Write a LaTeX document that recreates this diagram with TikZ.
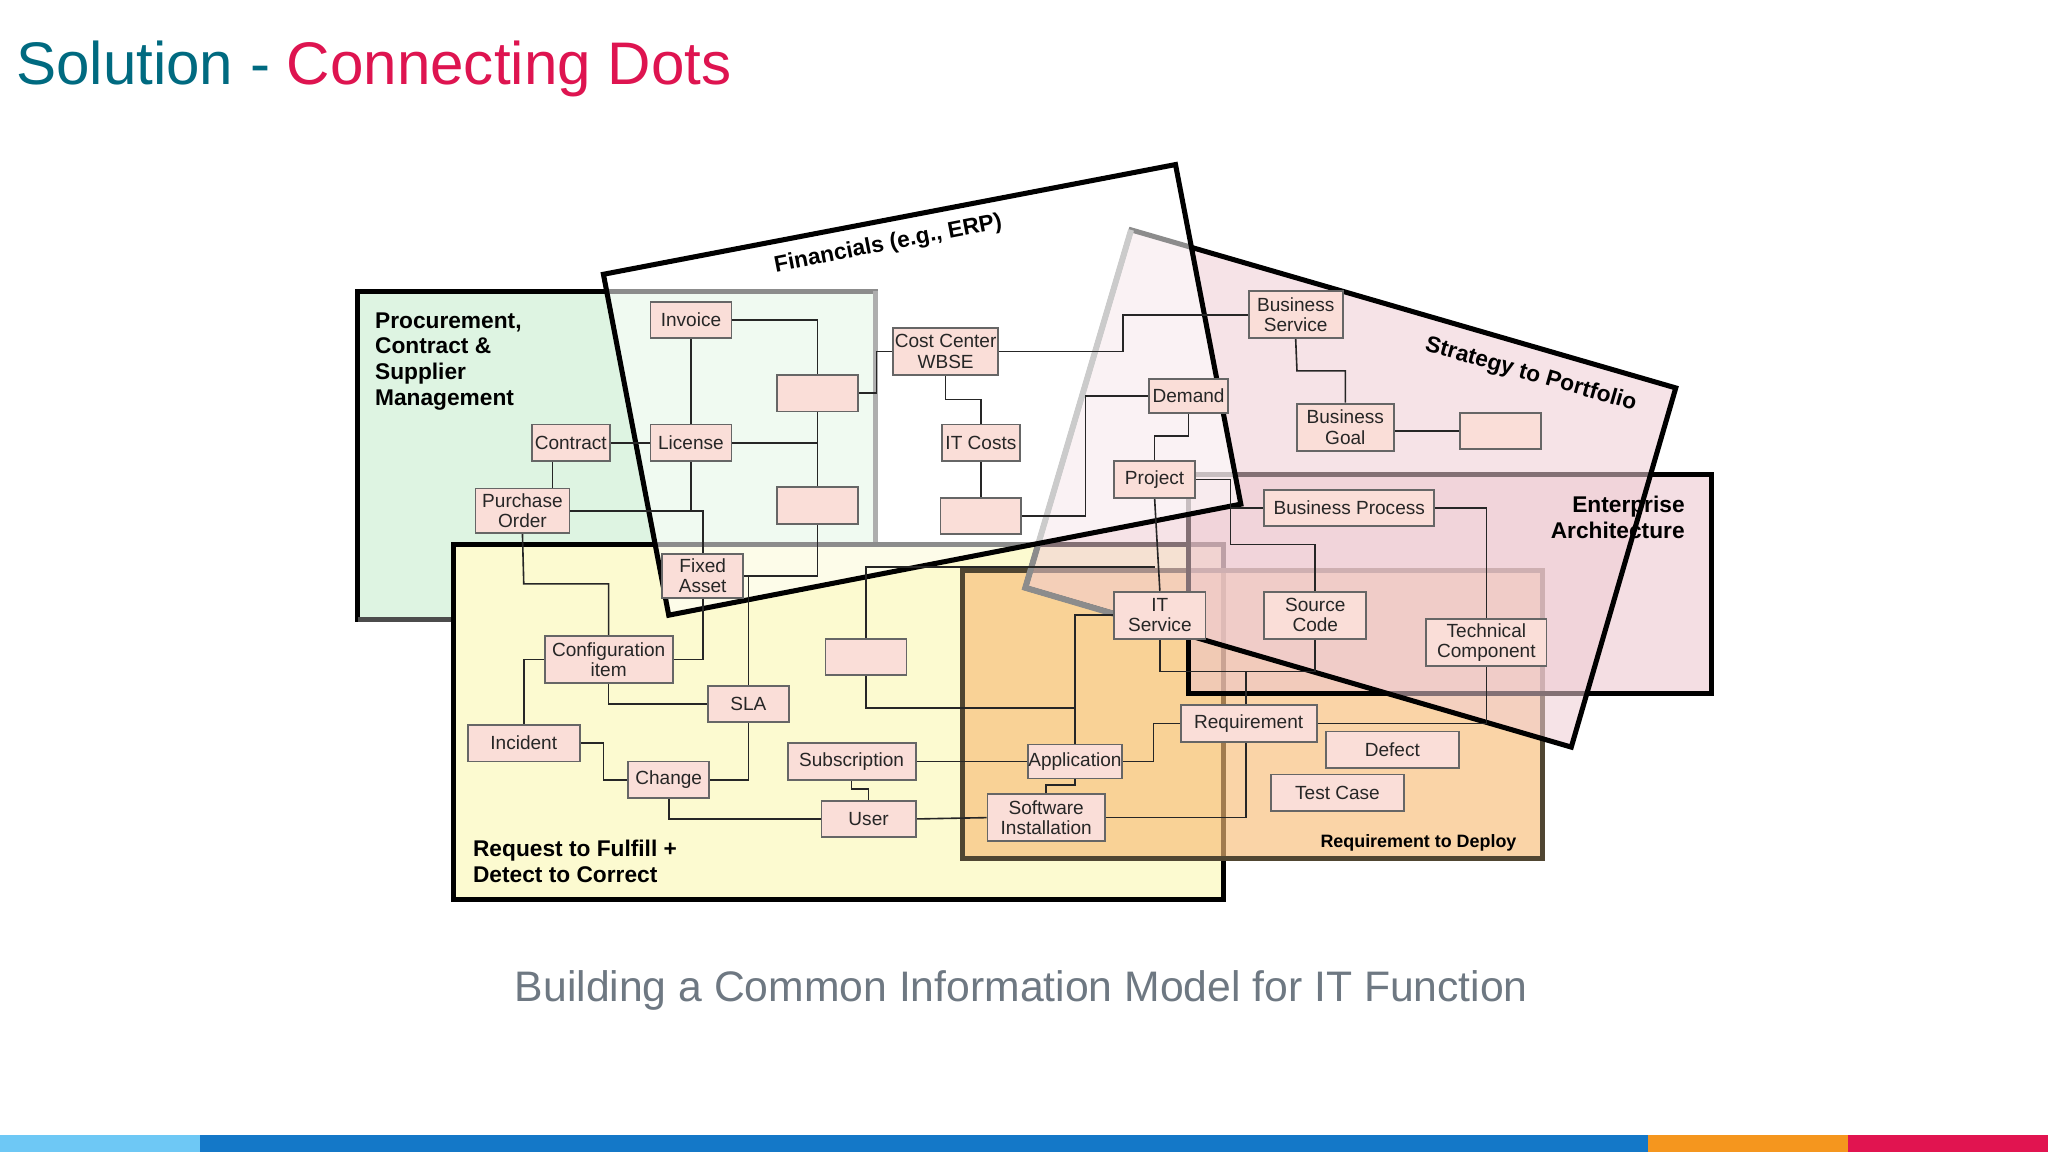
\documentclass[tikz,border=0pt]{standalone}
\usepackage{fontspec}
\setmainfont{Liberation Sans}
\pgfdeclarelayer{lines}
\pgfdeclarelayer{front}
\pgfsetlayers{main,lines,front}
\definecolor{boxc}{RGB}{250,222,216}
\definecolor{teal}{RGB}{0,106,128}
\definecolor{crim}{RGB}{222,20,80}
\definecolor{gfill}{RGB}{222,244,226}
\definecolor{yfill}{RGB}{252,250,208}
\definecolor{ofill}{RGB}{248,190,120}
\definecolor{odraw}{RGB}{80,70,50}
\definecolor{efill}{RGB}{236,196,205}
\definecolor{sfill}{RGB}{240,205,212}
\definecolor{capc}{RGB}{110,120,130}
\definecolor{barA}{RGB}{110,200,245}
\definecolor{barB}{RGB}{20,120,200}
\definecolor{barC}{RGB}{245,150,30}
\definecolor{barD}{RGB}{225,20,80}
\begin{document}
\begin{tikzpicture}[x=0.02cm,y=-0.02cm,
  bx/.style={draw=black!60,fill=boxc,line width=0.8pt,inner sep=0pt,align=center,font=\fontsize{8.3}{8.8}\selectfont,text=black!85},
  cn/.style={line width=0.7pt,black!85},
  reg/.style={line width=2.2pt,line join=miter},
  lab/.style={font=\bfseries\fontsize{9.9}{11.2}\selectfont,align=left}]
\useasboundingbox (0,0) rectangle (1568,882);
\fill[white] (0,0) rectangle (1568,882);
% regions
\draw[reg,fill=gfill] (274,223) rectangle (670,474);
\draw[reg,black!70!white] (670,223)--(670,474)--(274,474);
\draw[reg,fill=yfill] (347,417) rectangle (937,689);
\draw[reg,draw=odraw,fill=ofill,fill opacity=0.65] (737,437) rectangle (1181,657);
\draw[reg,fill=efill,fill opacity=0.55] (910,363) rectangle (1310,531);
\draw[reg,fill=sfill,fill opacity=0.55] (866,176)--(1283,297)--(1203,572)--(785,450)--cycle;
\draw[reg,black!45,line width=2.6pt] (866,176)--(785,450)--(880,478);
\fill[white,opacity=0.55] (462,210)--(900,126)--(950,386)--(512,471)--cycle;
\draw[reg] (462,210)--(900,126)--(950,386)--(512,471)--cycle;
% labels
\node[lab,anchor=north west] (lproc) at (281,233) {Procurement,\\Contract \&\\Supplier\\Management};
\node[lab,anchor=south west] (lreq) at (356,682) {Request to Fulfill +\\Detect to Correct};
\node[lab,align=right,anchor=east] (lea) at (1296,396) {Enterprise\\Architecture};
\node[font=\bfseries\fontsize{7.8}{8}\selectfont] (lrd) at (1086,645) {Requirement to Deploy};
\node[font=\bfseries\fontsize{9.9}{10}\selectfont,rotate=-16] (lsp) at (1172,287) {Strategy to Portfolio};
\node[font=\bfseries\fontsize{9.9}{10}\selectfont,rotate=11] (lfin) at (680,187) {Financials (e.g., ERP)};
% boxes
\newcommand{\bxn}[6]{\node[bx,minimum width=#4*0.02cm,minimum height=#5*0.02cm] (#1) at (#2,#3) {#6};}
\begin{pgfonlayer}{front}
\bxn{inv}{529}{245}{62}{28}{Invoice}
\bxn{b1}{626}{301}{62}{28}{}
\bxn{cc}{724}{269}{80}{36}{Cost Center\\WBSE}
\bxn{bsv}{992}{241}{72}{36}{Business\\Service}
\bxn{dem}{910}{303}{60}{26}{Demand}
\bxn{bg}{1030}{327}{74}{36}{Business\\Goal}
\bxn{bgb}{1149}{330}{62}{28}{}
\bxn{con}{437}{339}{60}{28}{Contract}
\bxn{lic}{529}{339}{62}{28}{License}
\bxn{itc}{751}{339}{60}{28}{IT Costs}
\bxn{prj}{884}{367}{62}{28}{Project}
\bxn{po}{400}{391}{72}{34}{Purchase\\Order}
\bxn{b2}{626}{387}{62}{28}{}
\bxn{b3}{751}{395}{62}{28}{}
\bxn{bp}{1033}{389}{130}{28}{Business Process}
\bxn{fa}{538}{441}{62}{34}{Fixed\\Asset}
\bxn{it}{888}{471}{70}{36}{IT\\Service}
\bxn{sc}{1007}{471}{78}{36}{Source\\Code}
\bxn{tc}{1138}{492}{92}{36}{Technical\\Component}
\bxn{cfg}{466}{505}{98}{36}{Configuration\\item}
\bxn{b4}{663}{503}{62}{28}{}
\bxn{sla}{573}{539}{62}{28}{SLA}
\bxn{req}{956}{554}{104}{28}{Requirement}
\bxn{inc}{401}{569}{86}{28}{Incident}
\bxn{def}{1066}{574}{102}{28}{Defect}
\bxn{sub}{652}{583}{98}{28}{Subscription}
\bxn{app}{823}{583}{72}{26}{Application}
\bxn{chg}{512}{597}{62}{28}{Change}
\bxn{tst}{1024}{607}{102}{28}{Test Case}
\bxn{usr}{665}{627}{72}{28}{User}
\bxn{si}{801}{626}{90}{36}{Software\\Installation}
\end{pgfonlayer}
% connectors
\begin{pgfonlayer}{lines}
\draw[cn] (inv.east) -| (b1.north);
\draw[cn] (inv.south) -- (lic.north);
\draw[cn] (b1.south) -- (b2.north);
\draw[cn] (lic.east) -- (lic.east -| b1.south);
\draw[cn] (b1.east) -- (671,301) |- (cc.west);
\draw[cn] (cc.east) -- (860,269) |- (bsv.west);
\draw[cn] (cc.south) -- (724,306) -| (itc.north);
\draw[cn] (itc.south) -- (b3.north);
\draw[cn] (b3.east) -- (831,395) |- (dem.west);
\draw[cn] (dem.south) -- (910,334) -| (prj.north);
\draw[cn] (prj.east) -- (942,367) |- (bp.west);
\draw[cn] (942,388) -- (942,417) -| (sc.north);
\draw[cn] (prj.south) -- (it.north);
\draw[cn] (884,434) -| (b4.north);
\draw[cn] (b4.south) -- (663,542) -- (823,542);
\draw[cn] (it.west) -| (app.north);
\draw[cn] (sub.east) -- (app.west);
\draw[cn] (sub.south) -- (652,604) -| (usr.north);
\draw[cn] (chg.south) |- (usr.west);
\draw[cn] (usr.east) -- (si.west);
\draw[cn] (app.south) -- (823,601) -| (si.north);
\draw[cn] (app.east) -- (883,583) |- (req.west);
\draw[cn] (it.south) |- (954,514) -- (954,626) -- (si.east);
\draw[cn] (sc.south) |- (954,514);
\draw[cn] (bp.east) -| (tc.north);
\draw[cn] (req.east) -| (tc.south);
\draw[cn] (bsv.south) -- (993,284) -| (bg.north);
\draw[cn] (bgb.west) -- (bgb.west -| bg.center);
\draw[cn] (con.east) -- (lic.west);
\draw[cn] (423,353) -- (423,374);
\draw[cn] (po.east) -- (529,391);
\draw[cn] (lic.south) -- (529,391) -- (538,391) -- (fa.north);
\draw[cn] (fa.east) -| (b2.south);
\draw[cn] (573,441) -- (sla.north);
\draw[cn] (fa.south) |- (cfg.east);
\draw[cn] (po.south) -- (401,447) -| (cfg.north);
\draw[cn] (cfg.west) -| (inc.north);
\draw[cn] (cfg.south) |- (sla.west);
\draw[cn] (inc.east) -- (462,569) |- (chg.west);
\draw[cn] (chg.east) -| (sla.south);
\end{pgfonlayer}
% title & caption
\node[anchor=west,font=\fontsize{26.2}{29}\selectfont,inner sep=0pt] (title) at (12,53) {\textcolor{teal}{Solution - }\textcolor{crim}{Connecting Dots}};
\node[font=\fontsize{18.6}{21}\selectfont,text=capc] (cap) at (782,758) {Building a Common Information Model for IT Function};
% bottom bar
\fill[barA] (0,869) rectangle (153,882);
\fill[barB] (153,869) rectangle (1262,882);
\fill[barC] (1262,869) rectangle (1415,882);
\fill[barD] (1415,869) rectangle (1568,882);
\end{tikzpicture}
\end{document}
